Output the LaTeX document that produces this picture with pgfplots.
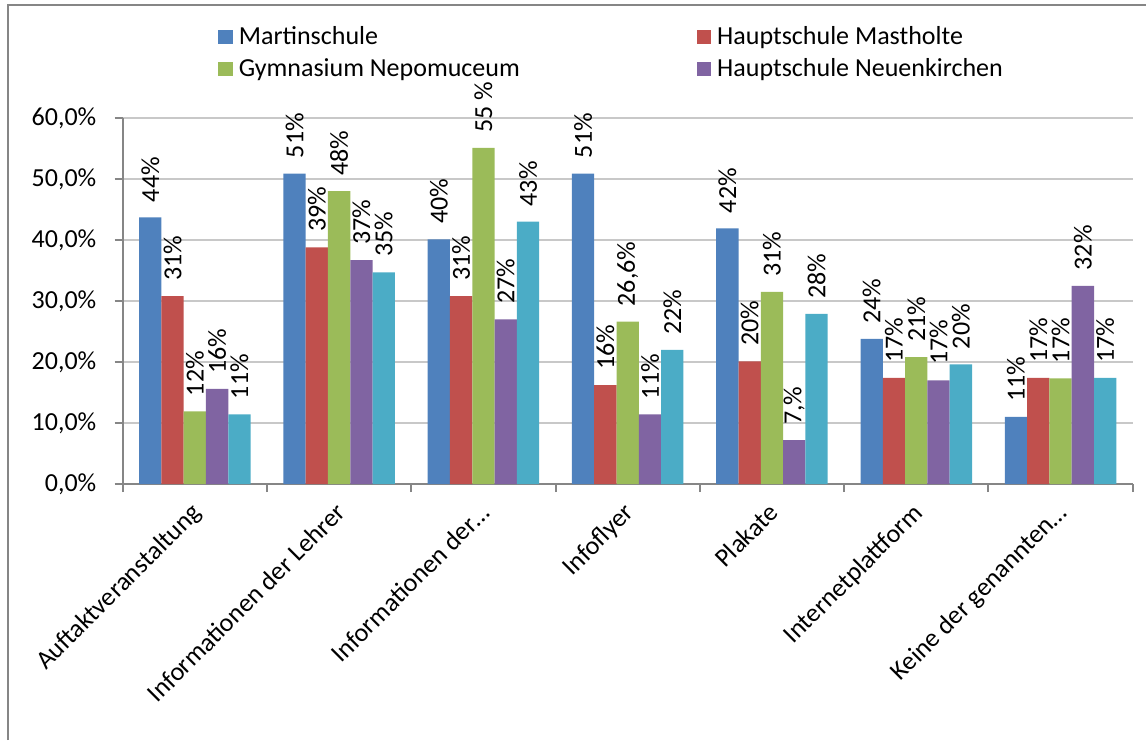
\documentclass[border=0pt]{standalone}
\usepackage{pgfplots}
\pgfplotsset{compat=1.18}
\usepackage{fontspec}
\setmainfont{Carlito}
\definecolor{cBlue}{HTML}{4F81BD}
\definecolor{cRed}{HTML}{C0504D}
\definecolor{cGreen}{HTML}{9BBB59}
\definecolor{cPurple}{HTML}{8064A2}
\definecolor{cCyan}{HTML}{4BACC6}
\definecolor{gridgray}{RGB}{200,200,200}
\definecolor{axgray}{RGB}{134,134,134}
\pgfplotsset{
  sq/.style={legend image code/.code={\fill[##1,draw=none] (0pt,-3.6pt) rectangle (7.2pt,3.6pt);}},
}
\begin{document}
\begin{tikzpicture}[font=\fontsize{13}{15}\selectfont]
\useasboundingbox (0,0) rectangle (573pt,370pt);
\draw[axgray, line width=1pt] (4pt,0) -- (4pt,367.5pt) -- (573pt,367.5pt);
\begin{axis}[
    at={(61.35pt,128pt)}, anchor=south west,
    scale only axis, width=505pt, height=183pt,
    ybar=0pt, bar width=11.15pt,
    xmin=-0.5, xmax=6.5, ymin=0, ymax=60,
    clip=false,
    axis lines*=left,
    axis line style={axgray, line width=1pt},
    xtick={0,...,6},
    xticklabels={Auftaktveranstaltung, Informationen der Lehrer, Informationen der\dots, Infoflyer, Plakate, Internetplattform, Keine der genannten\dots},
    major x tick style={draw=none},
    minor xtick={-0.5,0.5,...,6.5},
    minor tick length=4pt, major tick length=4pt,
    tick align=outside,
    tick style={axgray, line width=1pt},
    xticklabel style={xshift=-2.5pt, yshift=-4.5pt, rotate=45, anchor=north east, inner sep=0pt},
    ytick={0,10,...,60},
    yticklabels={{0,0\%},{10,0\%},{20,0\%},{30,0\%},{40,0\%},{50,0\%},{60,0\%}},
    yticklabel style={anchor=east, inner sep=0pt, xshift=-9pt},
    ymajorgrids, grid style={gridgray, line width=1pt},
    point meta=explicit symbolic,
    nodes near coords,
    nodes near coords style={rotate=90, anchor=west, inner xsep=7.5pt, inner ysep=0pt, black},
    legend columns=2,
    legend style={at={(0.0944,1.252)}, anchor=north west, draw=none, fill=none,
      inner sep=0pt, row sep=5.5pt,
      /tikz/every odd column/.append style={column sep=3pt},
      /tikz/every even column/.append style={column sep=88.5pt},
      nodes={inner sep=0pt, anchor=west}},
    legend cell align=left,
  ]
  \addplot[fill=cBlue, draw=none, sq] coordinates {
    (0,43.7) [44\%] (1,50.9) [51\%] (2,40.1) [40\%] (3,50.9) [51\%]
    (4,41.9) [42\%] (5,23.8) [24\%] (6,11.0) [11\%] };
  \addplot[fill=cRed, draw=none, sq] coordinates {
    (0,30.8) [31\%] (1,38.8) [39\%] (2,30.8) [31\%] (3,16.2) [16\%]
    (4,20.1) [20\%] (5,17.4) [17\%] (6,17.4) [17\%] };
  \addplot[fill=cGreen, draw=none, sq] coordinates {
    (0,11.9) [12\%] (1,48.0) [48\%] (2,55.1) [55 \%] (3,26.6) [26,6\%]
    (4,31.5) [31\%] (5,20.8) [21\%] (6,17.3) [17\%] };
  \addplot[fill=cPurple, draw=none, sq] coordinates {
    (0,15.6) [16\%] (1,36.7) [37\%] (2,27.0) [27\%] (3,11.4) [11\%]
    (4,7.2) [7,\%] (5,17.0) [17\%] (6,32.5) [32\%] };
  \addplot[fill=cCyan, draw=none, sq] coordinates {
    (0,11.4) [11\%] (1,34.7) [35\%] (2,43.0) [43\%] (3,22.0) [22\%]
    (4,27.9) [28\%] (5,19.6) [20\%] (6,17.4) [17\%] };
  \legend{Martinschule, Hauptschule Mastholte, Gymnasium Nepomuceum, Hauptschule Neuenkirchen}
\end{axis}
\end{tikzpicture}
\end{document}
